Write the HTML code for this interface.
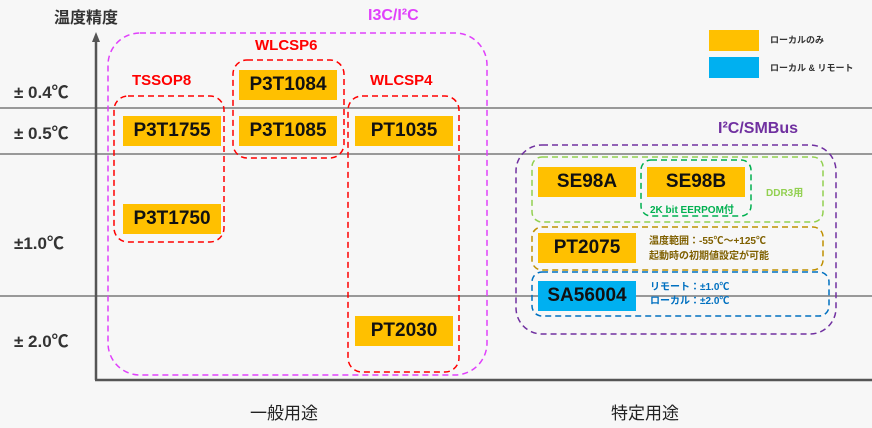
<!DOCTYPE html>
<html><head><meta charset="utf-8"><style>
body{margin:0;width:872px;height:428px;background:#f7f7f7;overflow:hidden;position:relative;font-family:"Liberation Sans","Noto Sans CJK JP",sans-serif;}
.t{position:absolute;white-space:nowrap;font-weight:bold;}
.b{position:absolute;background:#ffc000;color:#111;font-weight:bold;font-size:19px;text-align:center;line-height:30px;height:30px;width:98px;}
</style></head><body>
<svg width="872" height="428" style="position:absolute;left:0;top:0">
<g stroke="#999" stroke-width="2"><line x1="0" y1="108" x2="872" y2="108"/><line x1="0" y1="154" x2="872" y2="154"/><line x1="0" y1="296" x2="872" y2="296"/></g>
<g stroke="#555" stroke-width="2.5"><line x1="96" y1="40" x2="96" y2="380"/><line x1="95" y1="380" x2="872" y2="380"/></g>
<polygon points="96,32 92,42 100,42" fill="#555"/>
<g fill="none" stroke-width="1.5" stroke-dasharray="6,4">
<rect x="108" y="33" width="379" height="342" rx="32" stroke="#e040fb"/>
<rect x="114" y="96" width="110" height="146" rx="14" stroke="#f00"/>
<rect x="233" y="60" width="111" height="98" rx="14" stroke="#f00"/>
<rect x="348" y="96" width="111" height="276" rx="14" stroke="#f00"/>
<rect x="516" y="145" width="320" height="189" rx="26" stroke="#7030a0"/>
<rect x="532" y="157" width="291" height="65" rx="10" stroke="#92d050"/>
<rect x="641" y="160" width="110" height="56" rx="10" stroke="#00b050"/>
<rect x="532" y="227" width="291" height="43" rx="10" stroke="#bf9000"/>
<rect x="532" y="272" width="297" height="44" rx="10" stroke="#0070c0"/>
</g>
</svg>
<div class="t" style="left:54px;top:4px;font-size:16px;color:#333">温度精度</div>
<div class="t" style="left:14px;top:78px;font-size:17px;color:#333">± 0.4℃</div>
<div class="t" style="left:14px;top:119px;font-size:17px;color:#333">± 0.5℃</div>
<div class="t" style="left:14px;top:229px;font-size:17px;color:#333">±1.0℃</div>
<div class="t" style="left:14px;top:327px;font-size:17px;color:#333">± 2.0℃</div>
<div class="t" style="left:368px;top:7px;font-size:16px;color:#e040fb">I3C/I²C</div>
<div class="t" style="left:132px;top:72px;font-size:15px;color:#f00">TSSOP8</div>
<div class="t" style="left:255px;top:37px;font-size:15px;color:#f00">WLCSP6</div>
<div class="t" style="left:370px;top:72px;font-size:15px;color:#f00">WLCSP4</div>
<div class="b" style="left:123px;top:116px">P3T1755</div>
<div class="b" style="left:123px;top:204px">P3T1750</div>
<div class="b" style="left:239px;top:70px">P3T1084</div>
<div class="b" style="left:239px;top:116px">P3T1085</div>
<div class="b" style="left:355px;top:116px">PT1035</div>
<div class="b" style="left:355px;top:316px">PT2030</div>
<div class="t" style="left:718px;top:120px;font-size:16px;color:#7030a0">I²C/SMBus</div>
<div class="b" style="left:538px;top:167px">SE98A</div>
<div class="b" style="left:647px;top:167px">SE98B</div>
<div class="t" style="left:650px;top:201px;font-size:10px;color:#00b050">2K bit EERPOM付</div>
<div class="t" style="left:766px;top:184px;font-size:10px;color:#92d050">DDR3用</div>
<div class="b" style="left:538px;top:233px">PT2075</div>
<div class="t" style="left:649px;top:234px;font-size:10px;color:#7f6000;line-height:15px">温度範囲：-55℃～+125℃<br>起動時の初期値設定が可能</div>
<div class="b" style="left:538px;top:281px;background:#00b0f0">SA56004</div>
<div class="t" style="left:650px;top:281px;font-size:10px;color:#0070c0;line-height:14px">リモート：±1.0℃<br>ローカル：±2.0℃</div>
<div style="position:absolute;left:709px;top:30px;width:50px;height:21px;background:#ffc000"></div>
<div style="position:absolute;left:709px;top:57px;width:50px;height:21px;background:#00b0f0"></div>
<div class="t" style="left:770px;top:33px;font-size:9px;color:#333">ローカルのみ</div>
<div class="t" style="left:770px;top:61px;font-size:9px;color:#333">ローカル &amp; リモート</div>
<div class="t" style="left:250px;top:399px;font-size:17px;color:#222;font-weight:normal">一般用途</div>
<div class="t" style="left:611px;top:399px;font-size:17px;color:#222;font-weight:normal">特定用途</div>
</body></html>
